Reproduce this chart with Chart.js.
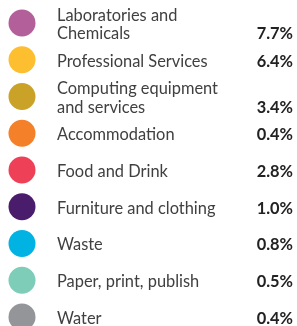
<!DOCTYPE html>
<html>
<head>
<meta charset="utf-8">
<script src="https://cdn.jsdelivr.net/npm/chart.js@4/dist/chart.umd.min.js"></script>
<style>
  html, body { margin: 0; padding: 0; background: #fff; }
  #wrap { width: 297px; height: 326px; }
</style>
</head>
<body>
<div id="wrap"><canvas id="myChart"></canvas></div>
<script>
const categories = [
    ["Laboratories and", "Chemicals"],
    ["Professional Services"],
    ["Computing equipment", "and services"],
    ["Accommodation"],
    ["Food and Drink"],
    ["Furniture and clothing"],
    ["Waste"],
    ["Paper, print, publish"],
    ["Water"]
];
const shares = [7.7, 6.4, 3.4, 0.4, 2.8, 1.0, 0.8, 0.5, 0.4];
const colours = ["#B3609A", "#FDBE30", "#C9A227", "#F5802A", "#EE4157", "#4A1C6C", "#00B3E3", "#7ECDB9", "#939598"];

const points = [];
for (let i = 0; i < categories.length; i++) {
    points.push({ x: 0, y: i });
}

// labels + percentages next to each dot
const textPlugin = {
    id: "rowText",
    afterDatasetsDraw(chart) {
        const ctx = chart.ctx;
        const yScale = chart.scales.y;
        const lineH = 18.5;
        ctx.save();
        ctx.textBaseline = "middle";
        for (let i = 0; i < categories.length; i++) {
            const lines = categories[i];
            const yc = yScale.getPixelForValue(i) + 1.5;
            const top = yc - (lines.length - 1) * lineH / 2;
            ctx.font = "400 16.4px Lato";
            ctx.fillStyle = "#404040";
            ctx.textAlign = "left";
            for (let j = 0; j < lines.length; j++) {
                ctx.fillText(lines[j], 57, top + j * lineH);
            }
            ctx.font = "700 16.4px Lato";
            ctx.fillStyle = "#222";
            ctx.textAlign = "right";
            ctx.fillText(shares[i].toFixed(1) + "%", 293, top + (lines.length - 1) * lineH);
        }
        ctx.restore();
    }
};

const myChart = new Chart(document.getElementById("myChart"), {
    type: "scatter",
    data: {
        datasets: [{
            data: points,
            pointRadius: 13.5,
            pointHoverRadius: 13.5,
            pointBackgroundColor: colours,
            pointBorderWidth: 0,
            clip: false
        }]
    },
    options: {
        responsive: true,
        maintainAspectRatio: false,
        animation: false,
        layout: { padding: 0, autoPadding: false },
        plugins: {
            legend: { display: false },
            tooltip: { enabled: false }
        },
        scales: {
            x: { display: false, min: -1, max: 12.5 },
            y: { display: false, min: -0.626, max: 8.245, reverse: true }
        }
    },
    plugins: [textPlugin]
});
</script>
</body>
</html>
